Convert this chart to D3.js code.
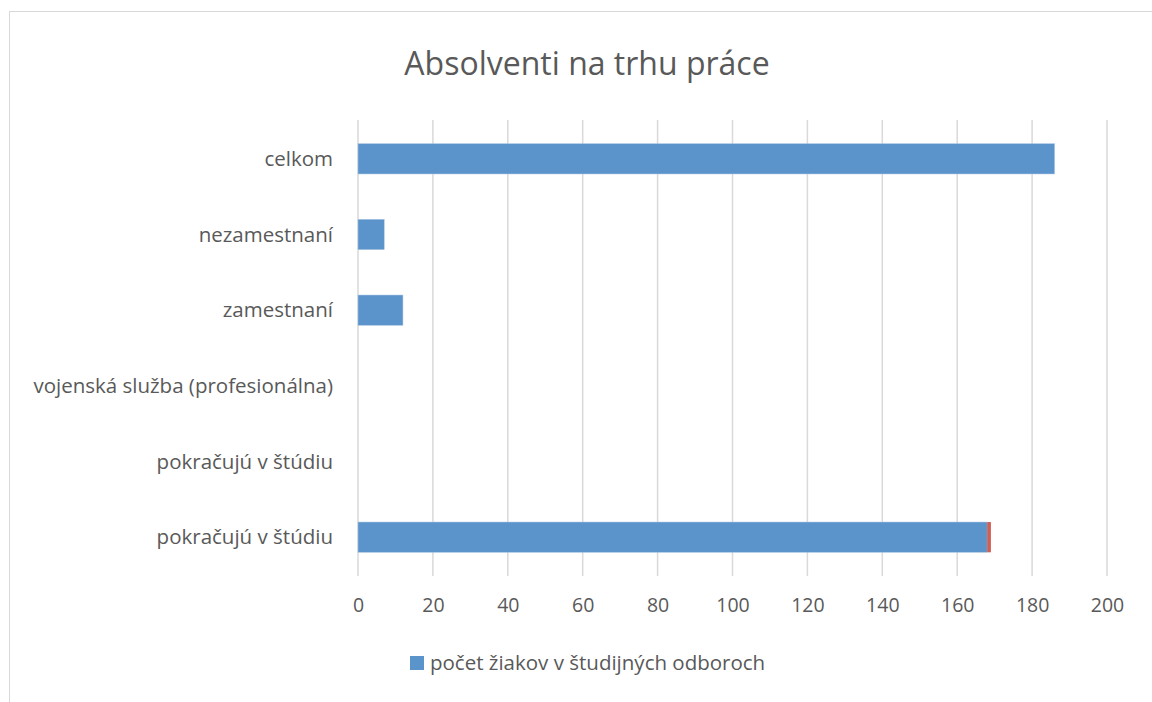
<!DOCTYPE html>
<html>
<head>
<meta charset="utf-8">
<script src="https://cdn.jsdelivr.net/npm/d3@7"></script>
<style>
  body { margin: 0; background: #fff; }
  svg text { font-family: "Open Sans", "Noto Sans", sans-serif; fill: #595959; }
</style>
</head>
<body>
<div id="chart"></div>
<script>
// categories top to bottom, as shown
var categories = ["celkom", "nezamestnaní", "zamestnaní", "vojenská služba (profesionálna)", "pokračujú v štúdiu", "pokračujú v štúdiu"];
var studentCounts = [186, 7, 12, 0, 0, 168];
var extraCounts = [0, 0, 0, 0, 0, 1];   // small red piece, not in legend
var xTicks = [0, 20, 40, 60, 80, 100, 120, 140, 160, 180, 200];
var seriesName = "počet žiakov v študijných odboroch";
var title = "Absolventi na trhu práce";

var width = 1152, height = 702;
var svg = d3.select("#chart").append("svg").attr("width", width).attr("height", height);

// chart frame
svg.append("rect")
  .attr("x", 9.5).attr("y", 11.5)
  .attr("width", 1160).attr("height", 720)
  .attr("fill", "none").attr("stroke", "#d9d9d9").attr("stroke-width", 1);

var x = d3.scaleLinear().domain([0, 200]).range([358, 1107]);
var y = d3.scaleBand().domain(d3.range(categories.length)).range([121, 575]).paddingInner(0.6).paddingOuter(0.3);

svg.append("text")
  .attr("x", 587).attr("y", 75)
  .attr("text-anchor", "middle")
  .style("font-size", "32px")
  .text(title);

// gridlines
svg.append("g").selectAll("line")
  .data(xTicks)
  .enter().append("line")
  .attr("x1", function(d) { return x(d); })
  .attr("x2", function(d) { return x(d); })
  .attr("y1", 120).attr("y2", 576)
  .attr("stroke", "#d9d9d9").attr("stroke-width", 1.5);

var bars = svg.append("g").selectAll("g")
  .data(categories)
  .enter().append("g");

bars.append("rect")
  .attr("x", x(0))
  .attr("y", function(d, i) { return y(i); })
  .attr("width", function(d, i) { return x(studentCounts[i]) - x(0); })
  .attr("height", y.bandwidth())
  .attr("fill", "#5b93cb")
  .attr("stroke", "#a7c4e2").attr("stroke-width", 0.5);

bars.filter(function(d, i) { return extraCounts[i] > 0; })
  .append("rect")
  .attr("x", function(d, i) { return x(studentCounts[categories.length - 1]); })
  .attr("y", y(categories.length - 1))
  .attr("width", x(extraCounts[categories.length - 1]) - x(0))
  .attr("height", y.bandwidth())
  .attr("fill", "#cf5e55");

// category labels
svg.append("g").selectAll("text")
  .data(categories)
  .enter().append("text")
  .attr("x", 333)
  .attr("y", function(d, i) { return y(i) + y.bandwidth() / 2; })
  .attr("dy", "0.35em")
  .attr("text-anchor", "end")
  .style("font-size", "20.5px")
  .text(function(d) { return d; });

// x axis labels
var xAxis = svg.append("g")
  .attr("transform", "translate(0,590)")
  .call(d3.axisBottom(x).tickValues(xTicks).tickSize(0).tickPadding(8));
xAxis.select(".domain").remove();
xAxis.selectAll("text").style("font-size", "19.5px").attr("fill", "#595959");

// legend
var legend = svg.append("g").attr("transform", "translate(410,656)");
legend.append("rect").attr("width", 14).attr("height", 14).attr("fill", "#5b93cb");
legend.append("text").attr("x", 20).attr("y", 7).attr("dy", "0.35em")
  .style("font-size", "20.5px").text(seriesName);
</script>
</body>
</html>
